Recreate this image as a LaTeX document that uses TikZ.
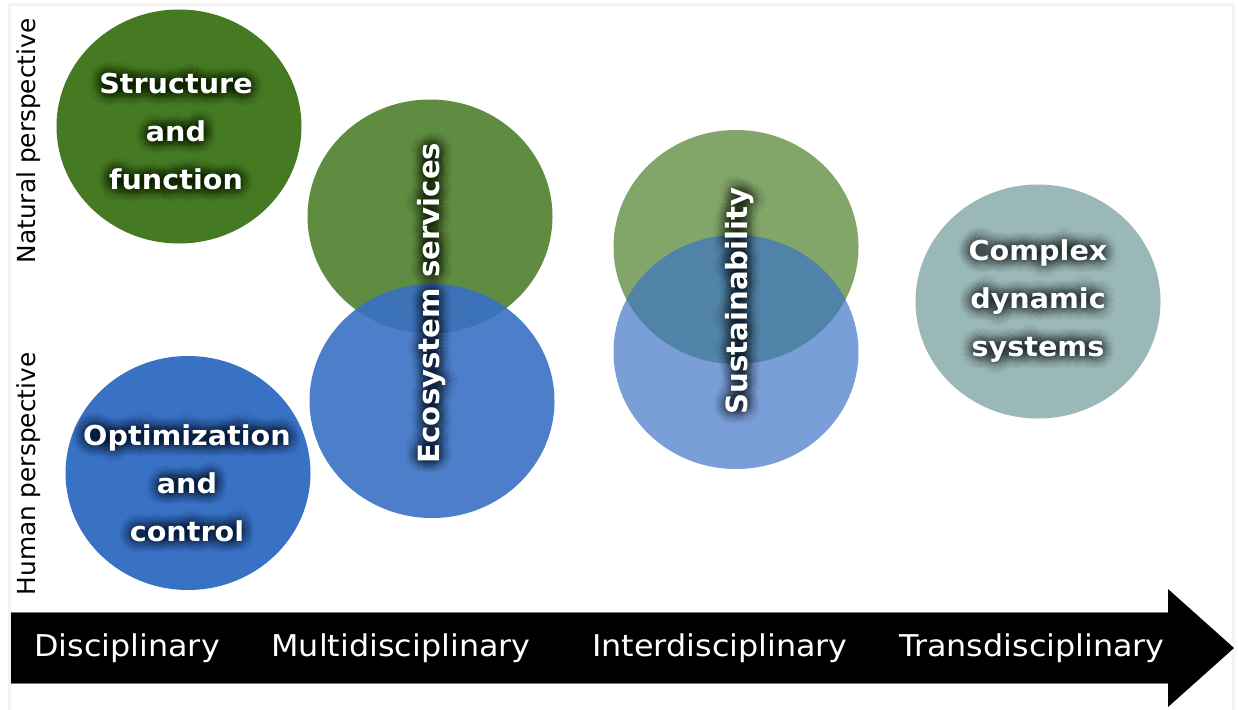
\documentclass[tikz,border=0pt]{standalone}
\usepackage{fontspec}
\setmainfont{DejaVu Sans}
\usetikzlibrary{calc,shapes.geometric}
\definecolor{frameg}{HTML}{F3F4F4}
\definecolor{natgreen}{HTML}{467A22}
\definecolor{humblue}{HTML}{3971C5}
\definecolor{cdsgray}{HTML}{9BB8B8}
\definecolor{edgegray}{HTML}{777777}
\tikzset{
  bubble/.style={ellipse, inner sep=0pt, minimum width=245pt, minimum height=234pt},
  lbl/.style={align=center, inner sep=0pt, font=\fontsize{27.4}{48}\bfseries\selectfont, xscale=1.045},
  vlbl/.style={inner sep=0pt, font=\fontsize{29.2}{34}\bfseries\selectfont},
  persp/.style={rotate=90, inner sep=0pt, font=\fontsize{24.8}{28}\selectfont},
  stage/.style={text=white, inner sep=0pt, font=\fontsize{30}{34}\selectfont, xscale=1.06},
}
\newcommand\glowlabel[5]{% style, name, position, rotation, text
  \foreach \ga in {0,22.5,...,337.5}{
    \foreach \gr in {2.5,4.5,6.5,8.5,10.5,12.5}{
      \node[#1, rotate=#4, text=black, text opacity=0.022] at ($#3+(\ga:\gr)$) {#5};
    }
  }
  \node[#1, rotate=#4, text=white] (#2) at #3 {#5};
}
\begin{document}
\begin{tikzpicture}[x=1pt,y=-1pt]
\useasboundingbox (0,0) rectangle (1238,709);
\fill[white] (0,0) rectangle (1238,709);
\draw[frameg, line width=3pt] (9,5) rectangle (1233,712);
% circles
\node[bubble, fill=natgreen] (sf) at (179,126.5) {};
\node[bubble, fill=humblue] (oc) at (188,473) {};
\node[bubble, fill=natgreen, fill opacity=0.86] (esg) at (430,216.5) {};
\node[bubble, fill=humblue, fill opacity=0.9] (esb) at (432,401) {};
\node[bubble, fill=natgreen, fill opacity=0.67] (sug) at (736,247) {};
\node[bubble, fill=humblue, fill opacity=0.67] (sub) at (736,352) {};
\node[bubble, fill=cdsgray] (cds) at (1038,301.5) {};
% labels
\glowlabel{lbl}{tsf}{(176,132)}{0}{Structure\\and\\function}
\glowlabel{lbl}{toc}{(187,483)}{0}{Optimization\\and\\control}
\glowlabel{lbl}{tcd}{(1038,301)}{0}{Complex\\dynamic\\systems}
\glowlabel{vlbl}{tes}{(432,303)}{90}{Ecosystem services}
\glowlabel{vlbl}{tsu}{(740,301)}{90}{Sustainability}
% perspectives
\node[persp] (np) at (29,141) {Natural perspective};
\node[persp] (hp) at (29,474) {Human perspective};
% arrow
\fill[black] (11,612) -- (1168,612) -- (1168,589) -- (1234,648) -- (1168,707) -- (1168,683) -- (11,683) -- cycle;
\draw[edgegray, line width=0.6pt] (11,612) -- (1168,612);
\draw[edgegray, line width=0.6pt] (11,683) -- (1168,683);
\node[stage] (d1) at (127,648) {Disciplinary};
\node[stage] (d2) at (401,648) {Multidisciplinary};
\node[stage] (d3) at (720,648) {Interdisciplinary};
\node[stage] (d4) at (1032,648) {Transdisciplinary};
\end{tikzpicture}
\end{document}
